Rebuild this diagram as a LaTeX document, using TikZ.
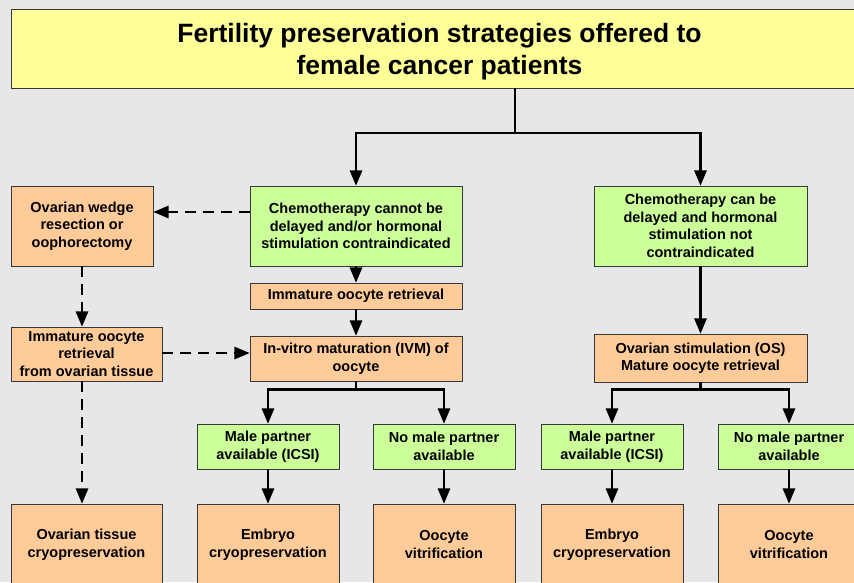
\documentclass[tikz,border=0pt]{standalone}
\usepackage{fontspec}
\setmainfont{Liberation Sans}
\usetikzlibrary{arrows}
\usetikzlibrary{calc}
\definecolor{bggray}{RGB}{230,231,233}
\definecolor{titleyellow}{RGB}{255,255,153}
\definecolor{boxgreen}{RGB}{204,255,153}
\definecolor{boxorange}{RGB}{255,204,153}
\definecolor{edgegray}{RGB}{55,55,55}

\begin{document}
\begin{tikzpicture}[x=1pt,y=-1pt,
  box/.style={draw=edgegray, line width=0.9pt, inner sep=2pt, align=center,
    font=\bfseries\fontsize{14.5}{17.5}\selectfont},
  greenbox/.style={box, fill=boxgreen},
  orangebox/.style={box, fill=boxorange},
  flow/.style={black, line width=2.6pt, ->, >=triangle 45},
  dflow/.style={flow, dash pattern=on 11pt off 7pt}]
\useasboundingbox (0,0) rectangle (854,582);
\clip (0,0) rectangle (854,582);
\fill[bggray] (0,0) rectangle (854,582);

% title
\node[box, fill=titleyellow, minimum width=857, minimum height=79, text depth=0pt,
  font=\bfseries\fontsize{26.5}{32}\selectfont] (title) at (439.5,48.5)
  {Fertility preservation strategies offered to\\female cancer patients};

% second row
\node[orangebox, minimum width=142, minimum height=80] (wedge) at (82,226)
  {Ovarian wedge\\resection or\\oophorectomy};
\node[greenbox, minimum width=212, minimum height=80] (chemoNo) at (356,226)
  {Chemotherapy cannot be\\delayed and/or hormonal\\stimulation contraindicated};
\node[greenbox, minimum width=213, minimum height=80] (chemoYes) at (700.5,226)
  {Chemotherapy can be\\delayed and hormonal\\stimulation not\\contraindicated};

% retrieval and maturation
\node[orangebox, minimum width=212, minimum height=26] (immRet) at (356,296)
  {Immature oocyte retrieval};
\node[orangebox, minimum width=212, minimum height=45] (ivm) at (356,358.5)
  {In-vitro maturation (IVM) of\\oocyte};
\node[orangebox, minimum width=151, minimum height=54] (tissRet) at (86.5,354)
  {Immature oocyte\\retrieval\\from ovarian tissue};
\node[orangebox, minimum width=213, minimum height=48] (os) at (700.5,358)
  {Ovarian stimulation (OS)\\Mature oocyte retrieval};

% partner boxes
\node[greenbox, minimum width=142, minimum height=45] (male1) at (268,446.5)
  {Male partner\\available (ICSI)};
\node[greenbox, minimum width=142, minimum height=45] (noMale1) at (444,446.5)
  {No male partner\\available};
\node[greenbox, minimum width=142, minimum height=45] (male2) at (612,446.5)
  {Male partner\\available (ICSI)};
\node[greenbox, minimum width=142, minimum height=45] (noMale2) at (789,446.5)
  {No male partner\\available};

% outcomes
\node[orangebox, minimum width=151, minimum height=81] (tissCryo) at (86.5,544.5)
  {Ovarian tissue\\cryopreservation};
\node[orangebox, minimum width=142, minimum height=81] (embryo1) at (268,544.5)
  {Embryo\\cryopreservation};
\node[orangebox, minimum width=142, minimum height=81] (oocyte1) at (444,544.5)
  {Oocyte\\vitrification};
\node[orangebox, minimum width=142, minimum height=81] (embryo2) at (612,544.5)
  {Embryo\\cryopreservation};
\node[orangebox, minimum width=142, minimum height=81] (oocyte2) at (789,544.5)
  {Oocyte\\vitrification};

% connectors
\coordinate (split) at (515,133);
\draw[flow, -] (split |- title.south) -- (split);
\draw[flow] (split) -| (chemoNo);
\draw[flow] (split) -| (chemoYes);
\draw[flow] (chemoNo) -- (immRet);
\draw[flow] (immRet) -- (ivm);
\draw[flow] (chemoYes) -- (os);
\draw[dflow] (chemoNo.west |- 0,212) -- (wedge.east |- 0,212);
\draw[dflow] (wedge.south) -- (wedge.south |- tissRet.north);
\draw[dflow] (tissRet.south -| wedge.south) -- (tissCryo.north -| wedge.south);
\draw[dflow] (tissRet.east |- 0,353) -- (ivm.west |- 0,353);

\coordinate (ivmSplit) at ($(ivm.south)+(0,8)$);
\coordinate (osSplit) at ($(os.south)+(0,7)$);
\draw[flow, -] (ivm) -- (ivmSplit);
\draw[flow, -] (os) -- (osSplit);
\foreach \t/\s in {male1/ivmSplit, noMale1/ivmSplit, male2/osSplit, noMale2/osSplit}
  \draw[flow] (\s) -| (\t);
\foreach \a/\b in {male1/embryo1, noMale1/oocyte1, male2/embryo2, noMale2/oocyte2}
  \draw[flow] (\a) -- (\b);
\end{tikzpicture}
\end{document}
